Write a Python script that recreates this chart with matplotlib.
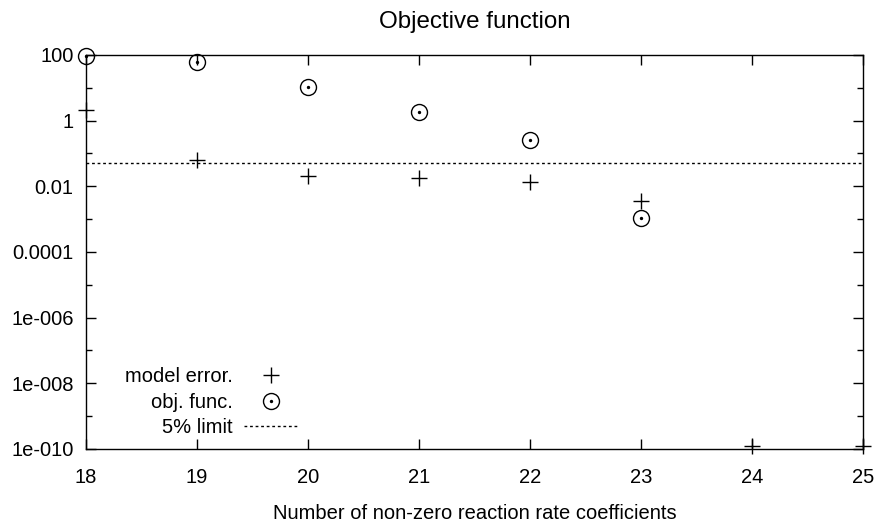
import matplotlib
matplotlib.use("Agg")
import matplotlib.pyplot as plt
import numpy as np

plt.rcParams["font.family"] = ["Liberation Sans", "DejaVu Sans"]
plt.rcParams["font.size"] = 14.5

# values
n_coeffs = [18, 19, 20, 21, 22, 23, 24, 25]
model_error = [2.1, 0.063, 0.02, 0.018, 0.0135, 0.0035, 1.23e-10, 1.2e-10]
obj_n = [18, 19, 20, 21, 22, 23]
obj_func = [93.0, 61.0, 10.5, 1.8, 0.26, 0.0011]
limit = 0.05

fig = plt.figure(figsize=(8.78, 5.23), dpi=100)
ax = fig.add_axes([0.098, 0.1415, 0.885, 0.7535])

pl, = ax.plot(n_coeffs, model_error, linestyle="none", marker="+",
              markersize=12, markeredgewidth=1.0, color="black",
              clip_on=False, zorder=3)
oc, = ax.plot(obj_n, obj_func, linestyle="none", marker="o", fillstyle="none",
              markersize=11.5, markeredgewidth=1.0, color="black",
              clip_on=False, zorder=3)
od, = ax.plot(obj_n, obj_func, linestyle="none", marker="o",
              markersize=1.4, color="black", clip_on=False, zorder=3)
ll = ax.axhline(limit, color="black", linestyle=(0, (2, 2)), linewidth=1.0)

ax.set_yscale("log")
ax.set_xlim(18, 25)
ax.set_ylim(1e-10, 100)

ax.set_xticks(n_coeffs)
yt = [1e-10, 1e-8, 1e-6, 1e-4, 1e-2, 1, 100]
ax.set_yticks(yt)
ax.set_yticklabels(["1e-010", "1e-008", "1e-006", "0.0001", "0.01", "1", "100"])
ax.set_yticks([10.0 ** k for k in range(-9, 2, 2)], minor=True)
ax.set_yticklabels([], minor=True)

ax.tick_params(which="both", direction="in", top=True, right=True, width=1.0)
ax.tick_params(which="major", length=7.5)
ax.tick_params(which="minor", length=4)
ax.tick_params(axis="y", pad=9)
ax.tick_params(axis="x", pad=13.5)
for s in ax.spines.values():
    s.set_linewidth(1.0)

ax.set_title("Objective function", pad=19.5)
ax.set_xlabel("Number of non-zero reaction rate coefficients", labelpad=12.5)

leg = ax.legend([pl, (oc, od), ll], ["model error.", "obj. func.", "5% limit"],
                loc="lower left", bbox_to_anchor=(0.05, 0.03), frameon=False,
                markerfirst=False, handlelength=2.7, handletextpad=0.55,
                labelspacing=0.32, borderpad=0, borderaxespad=0)
leg._legend_box._children[-1]._children[0].align = "right"

fig.savefig("out.png", dpi=100)
